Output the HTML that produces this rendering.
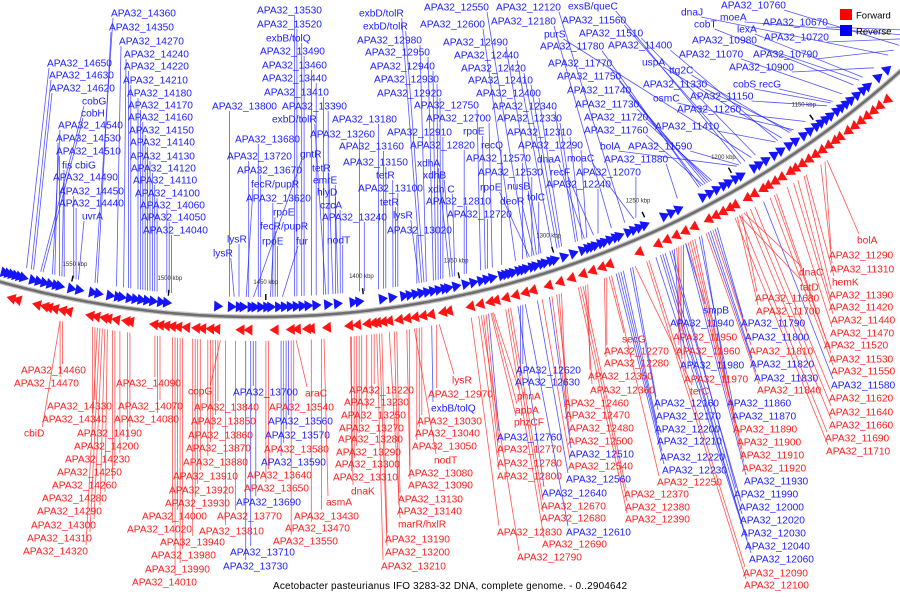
<!DOCTYPE html>
<html><head><meta charset="utf-8">
<style>
html,body{margin:0;padding:0;background:#fff;}
svg{display:block;font-family:"Liberation Sans",sans-serif;}
.lbl{font-size:10.2px;}
</style></head>
<body>
<svg id="map" width="900" height="600" viewBox="0 0 900 600" xmlns="http://www.w3.org/2000/svg">
<rect x="0" y="0" width="900" height="600" fill="#fff"/>
<g id="lines"></g>
<g id="track"></g>
<g id="labels"></g>
<g>
<rect x="840" y="9" width="12" height="11" fill="#ff0000"/>
<text x="856" y="18.5" font-size="9.5" fill="#000">Forward</text>
<rect x="840" y="25" width="12" height="11" fill="#0000ff"/>
<text x="856" y="34.5" font-size="9.5" fill="#000">Reverse</text>
</g>
<text x="273" y="589" font-size="10" textLength="354" fill="#000">Acetobacter pasteurianus IFO 3283-32 DNA, complete genome. - 0..2904642</text>
</svg>
<script>
// ---- data ----
const tickKbp = [1550,1500,1450,1400,1350,1300,1250,1200,1150];
const blueGeneKbp = [1590,1584,1582,1580,1578,1576,1574,1569,1566,1563,1560,1557,1555,1549,1545,1538,1535,1529,1525,1523,1519,1516,1513,1510,1507,1503,1500,1474,1467,1463,1461,1457,1455,1452,1449,1447,1443,1440,1437,1434,1431,1428,1424,1418,1413,1405,1402,1390,1385,1379,1376,1373,1370,1367,1364,1361,1358,1356,1352,1347,1343,1339,1336,1333,1328,1326,1324,1322,1319,1317,1315,1312,1310,1307,1305,1302,1300,1295,1290,1285,1282,1280,1278,1275,1273,1270,1267,1265,1260,1257,1254,1251,1240,1236,1232,1218,1214,1210,1206,1203,1199,1196,1188,1185,1181,1176,1172,1167,1163,1158,1154,1150,1147,1144,1141,1137,1134,1131,1128,1124,1120,1117,1110,1104];
const redGeneKbp = [1590,1578,1575,1565,1561,1559,1556,1552,1549,1538,1535,1531,1529,1525,1520,1518,1506,1503,1500,1497,1494,1490,1485,1482,1478,1475,1463,1459,1446,1438,1435,1430,1428,1420,1409,1405,1400,1397,1395,1392,1389,1384,1380,1376,1372,1368,1362,1359,1348,1343,1338,1335,1330,1325,1320,1316,1308,1302,1296,1290,1285,1280,1276,1260,1250,1245,1240,1235,1230,1222,1218,1214,1210,1207,1200,1196,1191,1188,1184,1180,1175,1172,1168,1164,1160,1156,1152,1148,1145,1140,1136,1132,1128,1124,1120,1115];
// labelled genes: [text, strand(r=reverse,f=forward), locus tag]
const labelGenes = [
['APA32_14360','r',14360],['APA32_14350','r',14350],['APA32_14270','r',14270],['APA32_14240','r',14240],['APA32_14220','r',14220],['APA32_14210','r',14210],['APA32_14180','r',14180],['APA32_14170','r',14170],['APA32_14160','r',14160],['APA32_14150','r',14150],['APA32_14140','r',14140],['APA32_14130','r',14130],['APA32_14120','r',14120],['APA32_14110','r',14110],['APA32_14100','r',14100],['APA32_14060','r',14060],['APA32_14050','r',14050],['APA32_14040','r',14040],
['APA32_14650','r',14650],['APA32_14630','r',14630],['APA32_14620','r',14620],['cobG','r',14590],['cobH','r',14580],['APA32_14540','r',14540],['APA32_14530','r',14530],['APA32_14510','r',14510],['fis cbiG','r',14500],['APA32_14490','r',14490],['APA32_14450','r',14450],['APA32_14440','r',14440],['uvrA','r',14430],
['APA32_13530','r',13530],['APA32_13520','r',13520],['exbB/tolQ','r',13500],['APA32_13490','r',13490],['APA32_13460','r',13460],['APA32_13440','r',13440],['APA32_13410','r',13410],['APA32_13800','r',13800],['APA32_13390','r',13390],['exbD/tolR','r',13400],['APA32_13180','r',13180],['APA32_13680','r',13680],['APA32_13260','r',13260],['APA32_13720','r',13720],['gntR','r',13700],['APA32_13160','r',13160],['APA32_13670','r',13670],['tetR','r',13370],['APA32_13150','r',13150],['fecR/pupR','r',13730],['emrE','r',13360],['tetR','r',13120],['APA32_13100','r',13100],['APA32_13620','r',13620],['hlyD','r',13350],['czcA','r',13340],['tetR','r',13110],['rpoE','r',13630],['APA32_13240','r',13240],['lysR','r',13010],['fecR/pupR','r',13610],['APA32_13020','r',13020],['lysR','r',13760],['rpoE','r',13600],['fur','r',13580],['nodT','r',13330],['lysR','r',13780],
['exbD/tolR','r',13000],['exbD/tolR','r',12990],['APA32_12550','r',12550],['APA32_12120','r',12120],['APA32_12600','r',12600],['APA32_12180','r',12180],['APA32_12980','r',12980],['APA32_12490','r',12490],['purS','r',11530],['APA32_12950','r',12950],['APA32_12440','r',12440],['APA32_12940','r',12940],['APA32_12420','r',12420],['APA32_12930','r',12930],['APA32_12410','r',12410],['APA32_12920','r',12920],['APA32_12400','r',12400],['APA32_12750','r',12750],['APA32_12340','r',12340],['APA32_12700','r',12700],['APA32_12330','r',12330],['APA32_12910','r',12910],['rpoE','r',12730],['APA32_12310','r',12310],['APA32_12820','r',12820],['recQ','r',12660],['APA32_12290','r',12290],['xdhA','r',12880],['APA32_12570','r',12570],['dnaA','r',12300],['xdhB','r',12870],['APA32_12530','r',12530],['recF','r',12260],['xdh C','r',12860],['rpoE','r',12540],['nusB','r',12510],['APA32_12810','r',12810],['deoR','r',12520],['tolC','r',12500],['APA32_12720','r',12720],
['exsB/queC','r',11580],['APA32_11560','r',11560],['APA32_11510','r',11510],['APA32_11780','r',11780],['APA32_11400','r',11400],['APA32_11770','r',11770],['uspA','r',11380],['APA32_11750','r',11750],['ttg2C','r',11340],['APA32_11740','r',11740],['APA32_11330','r',11330],['APA32_11730','r',11730],['osmC','r',11320],['APA32_11150','r',11150],['APA32_11720','r',11720],['APA32_11260','r',11260],['APA32_11760','r',11760],['APA32_11410','r',11410],['bolA','r',11600],['APA32_11590','r',11590],['moaC','r',12080],['APA32_11880','r',11880],['APA32_12070','r',12070],['APA32_12240','r',12240],['dnaJ','r',10820],['APA32_10760','r',10760],['cobT','r',11010],['moeA','r',10700],['lexA','r',10960],['APA32_10670','r',10670],['APA32_10980','r',10980],['APA32_10720','r',10720],['APA32_11070','r',11070],['APA32_10790','r',10790],['APA32_10900','r',10900],['cobS','r',11130],['recG','r',11120],
['APA32_13700','r',13700],['APA32_13560','r',13560],['APA32_13570','r',13570],['APA32_13590','r',13590],['APA32_13690','r',13690],['APA32_13710','r',13710],['APA32_13730','r',13730],['exbB/tolQ','r',12990],['APA32_12620','r',12620],['APA32_12630','r',12630],['APA32_12760','r',12760],['APA32_12510','r',12510],['APA32_12560','r',12560],['APA32_12640','r',12640],['APA32_12610','r',12610],['smpB','r',11930],['APA32_11940','r',11940],['APA32_11790','r',11790],['APA32_11800','r',11800],['APA32_11980','r',11980],['APA32_11820','r',11820],['APA32_11830','r',11830],['APA32_11580','r',11580],['APA32_12160','r',12160],['APA32_11860','r',11860],['APA32_12170','r',12170],['APA32_11870','r',11870],['APA32_12200','r',12200],['APA32_12210','r',12210],['APA32_12220','r',12220],['APA32_12230','r',12230],['APA32_11930','r',11930],['APA32_11990','r',11990],['APA32_12000','r',12000],['APA32_12020','r',12020],['APA32_12030','r',12030],['APA32_12040','r',12040],['APA32_12060','r',12060],
['APA32_14460','f',14460],['APA32_14470','f',14470],['APA32_14090','f',14090],['copG','f',13830],['APA32_14330','f',14330],['APA32_14070','f',14070],['APA32_13840','f',13840],['APA32_14340','f',14340],['APA32_14080','f',14080],['APA32_13850','f',13850],['cbiD','f',14470],['APA32_14190','f',14190],['APA32_13860','f',13860],['APA32_14200','f',14200],['APA32_13870','f',13870],['APA32_14230','f',14230],['APA32_13880','f',13880],['APA32_14250','f',14250],['APA32_13910','f',13910],['APA32_14260','f',14260],['APA32_13920','f',13920],['APA32_14280','f',14280],['APA32_13930','f',13930],['APA32_14290','f',14290],['APA32_14000','f',14000],['APA32_14300','f',14300],['APA32_14020','f',14020],['APA32_14310','f',14310],['APA32_13940','f',13940],['APA32_14320','f',14320],['APA32_13980','f',13980],['APA32_13990','f',13990],['APA32_14010','f',14010],['APA32_13810','f',13810],['APA32_13770','f',13770],
['araC','f',13530],['APA32_13220','f',13220],['lysR','f',12960],['APA32_13540','f',13540],['APA32_13230','f',13230],['APA32_12970','f',12970],['APA32_13250','f',13250],['APA32_13030','f',13030],['APA32_13270','f',13270],['APA32_13040','f',13040],['APA32_13580','f',13580],['APA32_13280','f',13280],['APA32_13050','f',13050],['APA32_13290','f',13290],['nodT','f',13060],['APA32_13300','f',13300],['APA32_13640','f',13640],['APA32_13310','f',13310],['APA32_13080','f',13080],['APA32_13650','f',13650],['dnaK','f',13315],['APA32_13090','f',13090],['APA32_13130','f',13130],['asmA','f',13420],['APA32_13430','f',13430],['APA32_13140','f',13140],['APA32_13470','f',13470],['marR/hxlR','f',13160],['APA32_13550','f',13550],['APA32_13190','f',13190],['APA32_13200','f',13200],['APA32_13210','f',13210],
['APA32_12770','f',12770],['APA32_12780','f',12780],['APA32_12800','f',12800],['APA32_12830','f',12830],['APA32_12790','f',12790],['phnA','f',12740],['apbA','f',12745],['phzCF','f',12750],['APA32_12460','f',12460],['APA32_12470','f',12470],['APA32_12480','f',12480],['APA32_12500','f',12500],['APA32_12540','f',12540],['APA32_12670','f',12670],['APA32_12680','f',12680],['APA32_12690','f',12690],['secG','f',12260],['APA32_12270','f',12270],['APA32_12280','f',12280],['APA32_12350','f',12350],['APA32_12360','f',12360],['APA32_12250','f',12250],['APA32_12370','f',12370],['APA32_12380','f',12380],['APA32_12390','f',12390],['APA32_11950','f',11950],['APA32_11960','f',11960],['APA32_11970','f',11970],['terC','f',12150],['APA32_11810','f',11810],['APA32_11840','f',11840],['APA32_11890','f',11890],['APA32_11900','f',11900],['APA32_11910','f',11910],['APA32_11920','f',11920],['APA32_12090','f',12090],['APA32_12100','f',12100],['APA32_11680','f',11680],['APA32_11700','f',11700],['dnaC','f',11670],['tatD','f',11690],['bolA','f',11280],['APA32_11290','f',11290],['APA32_11310','f',11310],['hemK','f',11380],['APA32_11390','f',11390],['APA32_11420','f',11420],['APA32_11440','f',11440],['APA32_11470','f',11470],['APA32_11520','f',11520],['APA32_11530','f',11530],['APA32_11550','f',11550],['APA32_11620','f',11620],['APA32_11640','f',11640],['APA32_11660','f',11660],['APA32_11690','f',11690],['APA32_11710','f',11710]
];
// label layout (left x, centre y), same order as labelGenes
const labelLayout = [
[111,13],[109,27],[119,41],[124,54],[124,66],[123,80],[127,93],[128,105],[128,117],[129,130],[130,142],[130,156],[131,168],[133,180],[135,193],[140,205],[141,217],[143,230],
[47,63],[49,75],[50,88],[82,101],[81,113],[58,125],[56,138],[56,151],[62,165],[53,177],[59,191],[59,203],[82,216],
[257,10],[257,24],[266,38],[260,51],[262,65],[262,78],[264,92],[212,106],[282,106],[272,119],[332,119],[235,139],[310,134],[227,156],[300,154],[339,146],[237,170],[312,168],[343,162],[251,184],[313,180],[376,175],[358,188],[246,198],[317,192],[320,205],[380,202],[273,212],[322,217],[393,215],[260,226],[387,230],[227,239],[262,241],[296,241],[327,240],[213,253],
[359,13],[363,26],[424,7],[496,7],[420,24],[491,21],[357,40],[443,42],[544,34],[365,52],[454,55],[370,66],[461,68],[374,79],[468,80],[377,93],[476,93],[414,105],[492,106],[426,118],[497,118],[387,132],[463,131],[507,132],[410,145],[481,145],[518,145],[417,163],[466,158],[537,159],[423,175],[478,172],[550,172],[428,189],[480,187],[507,186],[426,201],[500,201],[527,197],[447,214],
[568,6],[562,20],[579,33],[540,46],[608,45],[548,63],[642,62],[557,76],[669,70],[567,90],[643,84],[575,104],[653,98],[690,96],[584,117],[677,109],[584,130],[655,126],[600,146],[628,146],[567,158],[604,159],[576,172],[546,184],[681,12],[721,5],[694,24],[720,17],[737,29],[763,22],[692,40],[764,37],[679,54],[753,54],[729,67],[733,84],[759,84],
[233,392],[268,421],[265,435],[261,462],[236,502],[230,552],[223,566],[431,408],[516,370],[515,382],[497,437],[569,454],[566,479],[542,493],[566,532],[703,310],[670,323],[741,323],[745,337],[680,365],[750,364],[754,378],[831,385],[654,403],[727,403],[656,416],[732,416],[655,429],[657,441],[660,457],[662,470],[744,481],[734,494],[739,507],[740,520],[741,533],[745,546],[749,559],
[21,370],[14,383],[116,383],[188,391],[47,406],[118,406],[194,407],[42,419],[114,419],[191,421],[24,433],[77,433],[188,435],[74,446],[186,448],[65,459],[183,462],[57,472],[173,476],[52,485],[169,490],[42,498],[165,503],[37,511],[142,516],[31,525],[127,529],[27,538],[160,542],[23,551],[151,555],[145,569],[132,582],[199,531],[217,516],
[305,393],[349,390],[452,380],[269,407],[344,402],[428,394],[341,415],[417,421],[339,428],[415,433],[264,449],[338,439],[412,446],[336,452],[434,460],[335,464],[247,475],[333,477],[408,473],[244,488],[351,491],[408,485],[398,499],[326,502],[294,516],[397,511],[285,528],[398,524],[273,541],[385,539],[385,552],[381,566],
[497,449],[497,463],[497,476],[497,532],[517,557],[517,396],[515,410],[514,422],[564,403],[565,415],[569,428],[568,441],[568,466],[541,506],[541,518],[542,544],[622,339],[604,351],[604,363],[588,376],[590,390],[657,482],[624,494],[625,507],[625,519],[673,337],[676,351],[684,379],[690,391],[749,351],[757,390],[733,429],[737,442],[740,455],[742,468],[743,573],[744,585],[755,298],[756,311],[799,272],[800,287],[857,240],[829,255],[830,269],[832,282],[829,295],[829,307],[831,320],[830,333],[824,345],[829,359],[831,371],[829,398],[829,412],[829,425],[825,438],[826,451]
];

// ---- scales ----
const CX = 258, CY = -645, R = 962;
function kbpToTheta(k){ return (1454 - k) * 0.002066; }
function tagToKbp(tag){ return 1372 + (tag - 13020) * 0.124; }
function polar(k, r){ const t = kbpToTheta(k); return [CX + r*Math.sin(t), CY + r*Math.cos(t)]; }

const NS = 'http://www.w3.org/2000/svg';
const track = document.getElementById('track');
const linesG = document.getElementById('lines');
const labelsG = document.getElementById('labels');
function mk(tag, attrs, parent){ const e = document.createElementNS(NS, tag); for (const k in attrs) e.setAttribute(k, attrs[k]); parent.appendChild(e); return e; }

// backbone
let d = '';
for (let k = 1620; k >= 1060; k -= 2){ const p = polar(k, R); d += (d ? 'L' : 'M') + p[0].toFixed(1) + ' ' + p[1].toFixed(1); }
const bbShadow = mk('path', {d: d, fill: 'none', stroke: '#c8c8c8', 'stroke-width': 5}, track);


const bb = mk('path', {d: d, fill: 'none', stroke: '#6e6e6e', 'stroke-width': 2.6}, track);



// ticks
tickKbp.forEach(k => {
  const a = polar(k, R - 23), b = polar(k, R - 17);
  const tk = mk('line', {x1: a[0], y1: a[1], x2: b[0], y2: b[1], stroke: '#000', 'stroke-width': 1.4}, track);
  
  
  const lp = polar(k, R - 33);
  const tl = mk('text', {x: lp[0], y: lp[1], 'font-size': 6, 'text-anchor': 'middle', fill: '#333'}, track);
  tl.textContent = k + ' kbp';
  
  
});

// arrows
function arrow(k, strand){
  const r = strand === 'r' ? R - 10 : R + 13;
  const p = polar(k, r);
  const deg = -kbpToTheta(k) * 180 / Math.PI;
  const pts = strand === 'r' ? '-4.5,-5.5 4.5,0 -4.5,5.5' : '4.5,-5.5 -4.5,0 4.5,5.5';
  const a = mk('polygon', {points: pts, fill: strand === 'r' ? '#1414ff' : '#ff1414', transform: 'translate(' + p[0].toFixed(1) + ',' + p[1].toFixed(1) + ') rotate(' + deg.toFixed(2) + ')'}, track);
  
  
}
blueGeneKbp.forEach(k => arrow(k, 'r'));
redGeneKbp.forEach(k => arrow(k, 'f'));

// labels + connectors
labelGenes.forEach((g, i) => {
  const pos = labelLayout[i];
  const col = g[1] === 'r' ? '#1c1cff' : '#ff1c1c';
  const t = mk('text', {x: pos[0], y: pos[1] + 3.7, fill: col, class: 'lbl'}, labelsG);
  t.textContent = g[0];
  
  
  const w = t.getComputedTextLength ? t.getComputedTextLength() : g[0].length * 6;
  const kbp = tagToKbp(g[2]);
  const arcPt = polar(kbp, R);
  const below = pos[1] > arcPt[1];
  const end = polar(kbp, below ? R + 24 : R - 20);
  let ax = Math.min(Math.max(end[0], pos[0] + 2), pos[0] + w - 2);
  let ay = below ? pos[1] - 6 : pos[1] + 5;
  const ln = mk('line', {x1: ax.toFixed(1), y1: ay, x2: end[0].toFixed(1), y2: end[1].toFixed(1), stroke: g[1] === 'r' ? '#2828ff' : '#ff2828', 'stroke-width': 0.8, 'stroke-opacity': 0.8}, linesG);
  
  
});
</script>
</body></html>
